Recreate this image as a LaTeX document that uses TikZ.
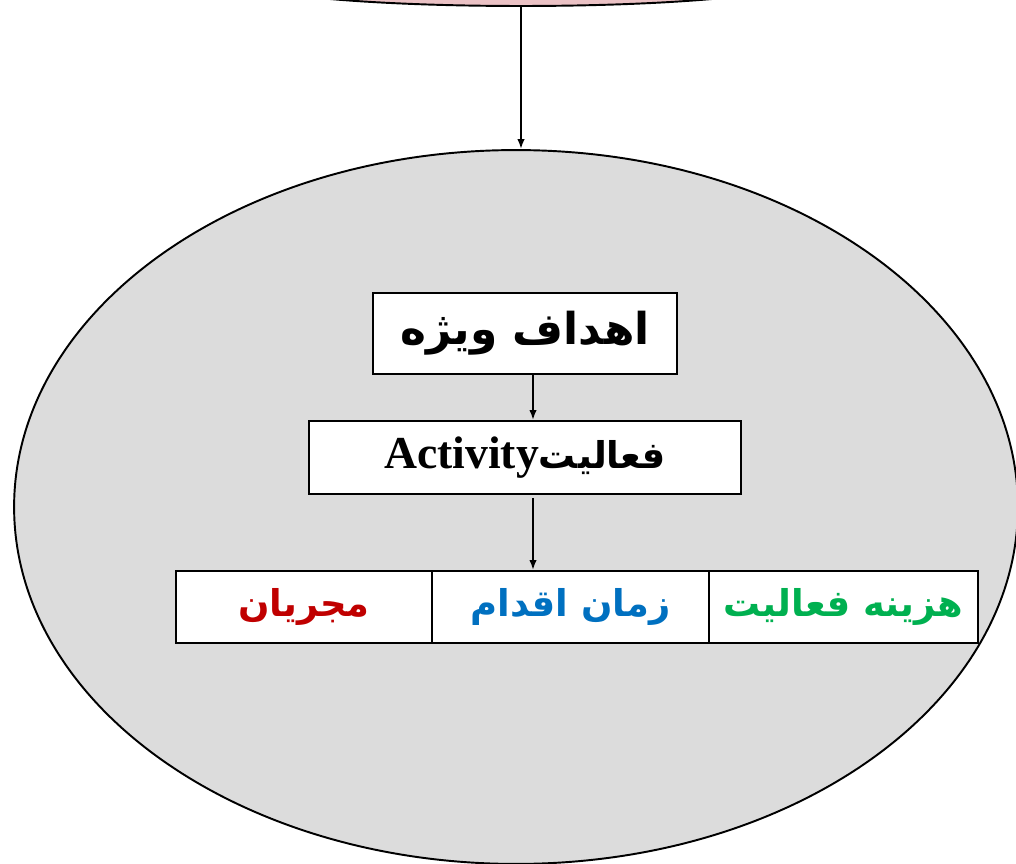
\documentclass[tikz,border=0pt]{standalone}
\usepackage{fontspec}
\setmainfont{Liberation Serif}
\newfontfamily\arabicfont[Script=Arabic]{DejaVu Sans}
\TeXXeTstate=1
\usetikzlibrary{shapes.geometric,arrows.meta}
\definecolor{rimpink}{HTML}{EBC2C5}
\definecolor{scopegray}{HTML}{DCDCDC}
\definecolor{doerred}{HTML}{C00000}
\definecolor{timeblue}{HTML}{0070C0}
\definecolor{costgreen}{HTML}{00B050}
\tikzset{
  box/.style={draw, fill=white, line width=1.1pt, inner sep=0pt},
  arr/.style={-{Latex[length=2mm,width=1.5mm]}, line width=1.1pt},
  fa/.style={font=\arabicfont\bfseries\fontsize{#1}{#1}\selectfont},
  fa/.default=21,
}
\begin{document}
\begin{tikzpicture}[x=0.02cm,y=-0.02cm]
        \useasboundingbox (0,0) rectangle (1016,864);
        \node[draw, ellipse, fill=rimpink, line width=1.1pt, inner sep=0pt,
              minimum width=11.2cm, minimum height=1.04cm] (top) at (521,-20) {};
        \node[draw, ellipse, fill=scopegray, line width=1.1pt, inner sep=0pt,
              minimum width=20.08cm, minimum height=14.28cm] (scope) at (516,507) {};
        \draw[arr] (top.south) -- (top.south |- scope.north);

        \node[box, fa=25, minimum width=6.08cm, minimum height=1.62cm]
              (goals) at (525,333.5) {\beginR اهداف ویژه\endR};
        \node[box, fa, minimum width=8.64cm, minimum height=1.46cm]
              (activity) at (525,457.5) {\beginR فعالیت\beginL{\rmfamily\bfseries\fontsize{26}{26}\selectfont Activity}\endL\endR};

        \node[box, fa, text=doerred, minimum width=5.12cm, minimum height=1.44cm]
              (doers) at (304,607) {\beginR مجریان\endR};
        \node[box, fa, text=timeblue, minimum width=5.54cm, minimum height=1.44cm]
              (time) at (570.5,607) {\beginR زمان اقدام\endR};
        \node[box, fa, text=costgreen, minimum width=5.38cm, minimum height=1.44cm]
              (cost) at (843.5,607) {\beginR هزینه فعالیت\endR};

        \draw[arr] ([xshift=0.16cm]goals.south) -- ([xshift=0.16cm]goals.south |- activity.north);
        \draw[arr] ([xshift=0.16cm,yshift=-0.06cm]activity.south) -- ([xshift=0.16cm]activity.south |- time.north);
\end{tikzpicture}
\end{document}
